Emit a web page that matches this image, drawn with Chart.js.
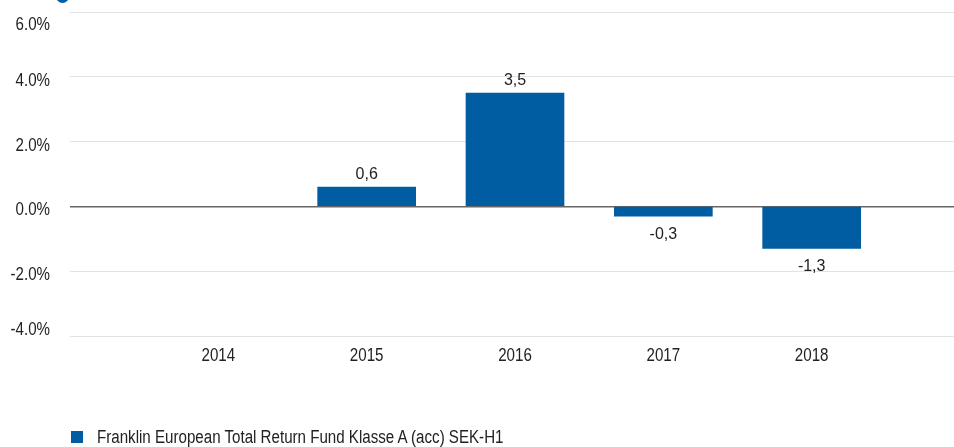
<!DOCTYPE html>
<html>
<head>
<meta charset="utf-8">
<script src="https://cdn.jsdelivr.net/npm/chart.js@4/dist/chart.umd.min.js"></script>
<style>
  html, body { margin: 0; padding: 0; background: #fff; }
  body { width: 954px; height: 447px; overflow: hidden; position: relative; }
  #wrap { position: absolute; left: 0; top: 0; width: 960px; height: 447px; }
  #dot { position: absolute; left: 56px; top: -10px; width: 13px; height: 13px; border-radius: 50%; background: #005da1; }
  #legend { position: absolute; left: 71px; top: 428px; height: 18px; display: flex; align-items: center;
    font-family: "Liberation Sans", Arial, sans-serif; font-size: 18px; color: #222; white-space: nowrap; }
  #legend .box { width: 12px; height: 12px; background: #005da1; margin-right: 14px; flex: none; }
  #legendText { display: inline-block; transform: scaleX(0.84); transform-origin: left center; }
</style>
</head>
<body>
<div id="wrap"><canvas id="perfChart" width="960" height="447"></canvas></div>
<div id="dot"></div>
<div id="legend"><span class="box"></span><span id="legendText"></span></div>
<script>
// Chart data
const years = [2014, 2015, 2016, 2017, 2018];
const returns = [null, 0.6, 3.5, -0.3, -1.3];
const seriesName = "Franklin European Total Return Fund Klasse A (acc) SEK-H1";
const yTicks = [-4, -2, 0, 2, 4, 6];

const barColor = "#005da1";
const baseFont = "'Liberation Sans', Arial, sans-serif";
const squeeze = 0.84; // axis text in the original is a narrow face

document.getElementById("legendText").textContent = seriesName;

// draws text squeezed horizontally around its anchor
function narrowText(ctx, txt, x, y, align) {
  ctx.save();
  ctx.translate(x, y);
  ctx.scale(squeeze, 1);
  ctx.textAlign = align;
  ctx.fillText(txt, 0, 0);
  ctx.restore();
}

// value labels above / below bars
const valueLabels = {
  id: "valueLabels",
  afterDatasetsDraw(chart) {
    const ctx = chart.ctx;
    const meta = chart.getDatasetMeta(0);
    ctx.save();
    ctx.font = "16px " + baseFont;
    ctx.fillStyle = "#222";
    ctx.textAlign = "center";
    ctx.textBaseline = "middle";
    meta.data.forEach((bar, i) => {
      const v = returns[i];
      if (v === null) return;
      const txt = v.toFixed(1).replace(".", ",");
      const y = v >= 0 ? bar.y - 12.5 : bar.y + 18;
      ctx.fillText(txt, bar.x, y);
    });
    ctx.restore();
  },
};

// axis labels (narrow), y ones kept inside the plot area
const axisLabels = {
  id: "axisLabels",
  afterDraw(chart) {
    const ctx = chart.ctx;
    const sy = chart.scales.y;
    const sx = chart.scales.x;
    const area = chart.chartArea;
    ctx.save();
    ctx.font = "18px " + baseFont;
    ctx.fillStyle = "#222";
    ctx.textBaseline = "middle";
    yTicks.forEach((t) => {
      let y = sy.getPixelForValue(t) + 4;
      y = Math.max(area.top + 13, Math.min(area.bottom - 5.5, y));
      narrowText(ctx, t.toFixed(1) + "%", 50, y, "right");
    });
    years.forEach((yr) => {
      narrowText(ctx, String(yr), sx.getPixelForValue(yr), area.bottom + 20, "center");
    });
    ctx.restore();
  },
};

function initChart() {
  const ctx = document.getElementById("perfChart").getContext("2d");

  new Chart(ctx, {
    type: "bar",
    data: {
      datasets: [
        {
          label: seriesName,
          data: years.map((y, i) => ({ x: y, y: returns[i] })),
          backgroundColor: barColor,
          barThickness: 98,
        },
      ],
    },
    options: {
      responsive: false,
      animation: false,
      layout: { padding: { top: 12, right: 0, bottom: 0, left: 0 } },
      plugins: {
        legend: { display: false },
        tooltip: { enabled: false },
      },
      scales: {
        x: {
          type: "linear",
          min: 2013,
          max: 2019,
          offset: false,
          grid: { display: false },
          border: { display: false },
          afterFit: (scale) => { scale.height = 111; },
          ticks: { display: false },
        },
        y: {
          min: -4,
          max: 6,
          afterFit: (scale) => { scale.width = 70; },
          afterBuildTicks: (scale) => {
            scale.ticks = yTicks.map((v) => ({ value: v }));
          },
          grid: {
            drawTicks: false,
            color: (c) => (c.tick && c.tick.value === 0 ? "#666666" : "#e2e2e2"),
            lineWidth: (c) => (c.tick && c.tick.value === 0 ? 1.5 : 1),
          },
          border: { display: false },
          ticks: { display: false },
        },
      },
    },
    plugins: [valueLabels, axisLabels],
  });
}

initChart();
</script>
</body>
</html>
